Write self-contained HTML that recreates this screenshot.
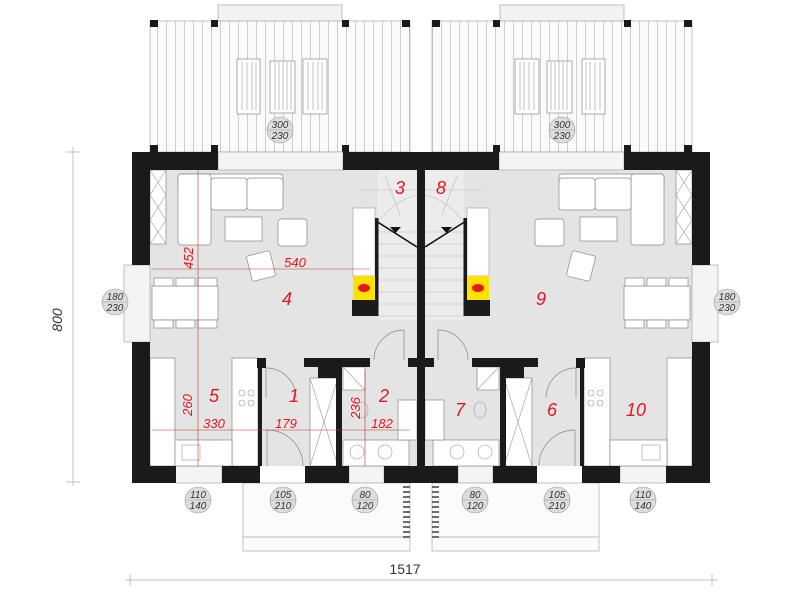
<!DOCTYPE html>
<html><head><meta charset="utf-8"><style>
html,body{margin:0;padding:0;background:#fff;width:800px;height:600px;overflow:hidden}
svg{display:block}
.r{fill:#e8141e;font-family:"Liberation Sans",sans-serif;font-style:italic}
.g{fill:#333;font-family:"Liberation Sans",sans-serif;font-style:italic;font-size:10px}
</style></head><body>
<svg width="800" height="600" viewBox="0 0 800 600" xmlns="http://www.w3.org/2000/svg">
<defs>
<pattern id="slat" width="9" height="10" patternUnits="userSpaceOnUse">
<rect width="9" height="10" fill="#fafafa"/><line x1="4.5" y1="0" x2="4.5" y2="10" stroke="#bbb" stroke-width="0.7"/></pattern>
<g id="half">
 <!-- terrace -->
 <rect x="218" y="5" width="124" height="16" fill="#f2f2f2" stroke="#aaa" stroke-width="0.7"/>
 <rect x="150" y="21" width="260" height="131" fill="url(#slat)" stroke="#aaa" stroke-width="0.7"/>
 <rect x="237" y="59" width="23" height="55" fill="#fff" stroke="#888" stroke-width="0.7"/>
 <rect x="270" y="61" width="25" height="52" fill="#fff" stroke="#888" stroke-width="0.7"/>
 <rect x="303" y="59" width="24" height="55" fill="#fff" stroke="#888" stroke-width="0.7"/>
 <g stroke="#999" stroke-width="0.6">
 <line x1="242" y1="62" x2="242" y2="110"/><line x1="247" y1="62" x2="247" y2="110"/><line x1="252" y1="62" x2="252" y2="110"/><line x1="256" y1="62" x2="256" y2="110"/>
 <line x1="275" y1="62" x2="275" y2="110"/><line x1="279" y1="62" x2="279" y2="110"/><line x1="283" y1="62" x2="283" y2="110"/><line x1="287" y1="62" x2="287" y2="110"/><line x1="291" y1="62" x2="291" y2="110"/>
 <line x1="308" y1="62" x2="308" y2="110"/><line x1="313" y1="62" x2="313" y2="110"/><line x1="318" y1="62" x2="318" y2="110"/><line x1="322" y1="62" x2="322" y2="110"/>
 </g>
 <g fill="#1a1a1a">
 <rect x="150" y="20" width="8" height="7"/><rect x="211" y="20" width="7" height="7"/><rect x="342" y="20" width="7" height="7"/><rect x="402" y="20" width="8" height="7"/>
 <rect x="150" y="145" width="8" height="8"/><rect x="211" y="145" width="7" height="8"/><rect x="342" y="145" width="7" height="8"/>
 </g>
 <!-- floor -->
 <rect x="150" y="170" width="271" height="296" fill="#e4e4e4"/>
 <!-- window strips -->
 <rect x="218" y="152" width="125" height="18" fill="#f4f4f4" stroke="#999" stroke-width="0.6"/>
 <rect x="124" y="265" width="26" height="77" fill="#f4f4f4" stroke="#999" stroke-width="0.6"/>
 <rect x="175" y="466" width="47" height="17" fill="#f4f4f4" stroke="#999" stroke-width="0.6"/>
 <rect x="349" y="466" width="35" height="17" fill="#f4f4f4" stroke="#999" stroke-width="0.6"/>
 <!-- porch -->
 <rect x="243" y="483" width="167" height="68" fill="#fbfbfb" stroke="#aaa" stroke-width="0.7"/>
 <line x1="243" y1="537" x2="410" y2="537" stroke="#aaa" stroke-width="0.7"/>
 <g stroke="#222" stroke-width="1.3">
 <line x1="403" y1="487" x2="410" y2="487"/><line x1="403" y1="492" x2="410" y2="492"/><line x1="403" y1="497" x2="410" y2="497"/><line x1="403" y1="502" x2="410" y2="502"/><line x1="403" y1="507" x2="410" y2="507"/><line x1="403" y1="512" x2="410" y2="512"/><line x1="403" y1="517" x2="410" y2="517"/><line x1="403" y1="522" x2="410" y2="522"/><line x1="403" y1="527" x2="410" y2="527"/><line x1="403" y1="532" x2="410" y2="532"/><line x1="403" y1="537" x2="410" y2="537"/>
 </g>
 <!-- furniture -->
 <g fill="#fff" stroke="#888" stroke-width="0.7">
 <rect x="150" y="170" width="16" height="74"/>
 <rect x="178" y="174" width="105" height="14" rx="3"/>
 <rect x="178" y="174" width="33" height="71" rx="3"/>
 <rect x="211" y="178" width="36" height="32" rx="3"/>
 <rect x="247" y="178" width="36" height="32" rx="3"/>
 <rect x="225" y="217" width="37" height="24"/>
 <rect x="278" y="219" width="29" height="27" rx="3"/>
 <rect x="249" y="253" width="24" height="26" rx="2" transform="rotate(-14 261 266)"/>
 <rect x="152" y="286" width="66" height="34"/>
 <rect x="154" y="278" width="19" height="8"/><rect x="176" y="278" width="19" height="8"/><rect x="198" y="278" width="19" height="8"/>
 <rect x="154" y="320" width="19" height="8"/><rect x="176" y="320" width="19" height="8"/><rect x="198" y="320" width="19" height="8"/>
 <rect x="150" y="358" width="25" height="108"/>
 <rect x="232" y="358" width="26" height="108"/>
 <rect x="175" y="440" width="57" height="26"/>
 <rect x="343" y="367" width="22" height="23"/>
 <rect x="343" y="440" width="66" height="26"/>
 <rect x="398" y="400" width="19" height="40"/>
 <rect x="310" y="378" width="28" height="88"/>
 </g>
 <g stroke="#999" stroke-width="0.6" fill="none">
 <path d="M150 170L166 195M166 170L150 195M150 195L166 220M166 195L150 220M150 220L166 244M166 220L150 244"/>
 <path d="M310 378L338 466M338 378L310 466"/>
 <path d="M343 367L365 390"/>
 <circle cx="242" cy="393" r="3"/><circle cx="251" cy="393" r="3"/><circle cx="242" cy="403" r="3"/><circle cx="251" cy="403" r="3"/>
 <circle cx="357" cy="452" r="7"/><circle cx="385" cy="452" r="7"/>
 <ellipse cx="362" cy="410" rx="6" ry="8"/>
 <rect x="182" y="445" width="18" height="15"/>
 </g>
 <!-- stairs -->
 <rect x="378" y="170" width="39" height="150" fill="#ececec"/>
 <g stroke="#bbb" stroke-width="0.6">
 <line x1="378" y1="232" x2="417" y2="232"/><line x1="378" y1="244" x2="417" y2="244"/><line x1="378" y1="256" x2="417" y2="256"/><line x1="378" y1="268" x2="417" y2="268"/><line x1="378" y1="280" x2="417" y2="280"/><line x1="378" y1="292" x2="417" y2="292"/><line x1="378" y1="304" x2="417" y2="304"/><line x1="378" y1="316" x2="417" y2="316"/>
 <path d="M378 222Q395 200 417 195M385 176L400 215M360 190L417 190" fill="none"/>
 </g>
 <line x1="376" y1="221" x2="417" y2="247" stroke="#111" stroke-width="1.6"/>
 <path d="M390 227h11l-5.5 6z" fill="#111"/>
 <rect x="353" y="208" width="22" height="68" fill="#fff" stroke="#999" stroke-width="0.6"/>
 <rect x="353" y="276" width="22" height="24" fill="#ffe100"/>
 <ellipse cx="364" cy="288" rx="6" ry="4" fill="#e8141e"/>
 <rect x="352" y="300" width="26" height="16" fill="#1a1a1a"/>
 <rect x="375" y="218" width="3.5" height="98" fill="#1a1a1a"/>
 <!-- doors -->
 <g fill="none" stroke="#888" stroke-width="0.7">
 <path d="M266 368v30M266 368a30 30 0 0 1 30 30"/>
 <path d="M267 466v-36M267 430a36 36 0 0 1 36 36"/>
 <path d="M374 360a30 30 0 0 1 30 -30v30"/>
 </g>
 <!-- walls -->
 <g fill="#1a1a1a">
 <rect x="132" y="152" width="86" height="18"/>
 <rect x="343" y="152" width="78" height="18"/>
 <rect x="132" y="152" width="18" height="113"/>
 <rect x="132" y="342" width="18" height="141"/>
 <rect x="132" y="466" width="44" height="17"/>
 <rect x="222" y="466" width="38" height="17"/>
 <rect x="305" y="466" width="44" height="17"/>
 <rect x="384" y="466" width="37" height="17"/>
 <rect x="257" y="358" width="9" height="10"/>
 <rect x="258" y="358" width="4" height="108"/>
 <rect x="304" y="358" width="66" height="9"/>
 <rect x="318" y="358" width="22" height="20"/>
 <rect x="336" y="358" width="6" height="108"/>
 <rect x="408" y="358" width="13" height="9"/>
 </g>
</g>
</defs>
<use href="#half"/>
<use href="#half" transform="matrix(-1 0 0 1 842 0)"/>
<rect x="417" y="152" width="8" height="331" fill="#1a1a1a"/>
<!-- red dims -->
<g stroke="#c0392b" stroke-width="0.6">
<line x1="152" y1="269" x2="370" y2="269"/>
<line x1="198" y1="170" x2="198" y2="466"/>
<line x1="152" y1="430" x2="410" y2="430"/>
<line x1="365" y1="370" x2="365" y2="466"/>
</g>
<!-- dimension lines -->
<g stroke="#aaa" stroke-width="0.7">
<line x1="73" y1="147" x2="73" y2="486"/><line x1="66" y1="152" x2="80" y2="152"/><line x1="66" y1="482" x2="80" y2="482"/>
<line x1="125" y1="580" x2="718" y2="580"/><line x1="130" y1="574" x2="130" y2="586"/><line x1="712" y1="574" x2="712" y2="586"/>
</g>
<text x="62" y="320" font-size="14" fill="#333" font-family="Liberation Sans,sans-serif" font-style="italic" text-anchor="middle" transform="rotate(-90 62 320)">800</text>
<text x="405" y="574" font-size="14" fill="#333" font-family="Liberation Sans,sans-serif" text-anchor="middle">1517</text>
<!-- window tags -->
<g fill="#ddd" stroke="#999" stroke-width="0.6">
<circle cx="280" cy="130" r="13"/><circle cx="562" cy="130" r="13"/>
<circle cx="115" cy="302" r="13"/><circle cx="727" cy="302" r="13"/>
<circle cx="198" cy="500" r="13"/><circle cx="283" cy="500" r="13"/><circle cx="365" cy="500" r="13"/>
<circle cx="475" cy="500" r="13"/><circle cx="557" cy="500" r="13"/><circle cx="643" cy="500" r="13"/>
</g>
<g stroke="#999" stroke-width="0.5">
<line x1="267" y1="130" x2="293" y2="130"/><line x1="549" y1="130" x2="575" y2="130"/>
<line x1="102" y1="302" x2="128" y2="302"/><line x1="714" y1="302" x2="740" y2="302"/>
<line x1="185" y1="500" x2="211" y2="500"/><line x1="270" y1="500" x2="296" y2="500"/><line x1="352" y1="500" x2="378" y2="500"/>
<line x1="462" y1="500" x2="488" y2="500"/><line x1="544" y1="500" x2="570" y2="500"/><line x1="630" y1="500" x2="656" y2="500"/>
</g>
<g class="g" text-anchor="middle">
<text x="280" y="128">300</text><text x="280" y="139">230</text>
<text x="562" y="128">300</text><text x="562" y="139">230</text>
<text x="115" y="300">180</text><text x="115" y="311">230</text>
<text x="727" y="300">180</text><text x="727" y="311">230</text>
<text x="198" y="498">110</text><text x="198" y="509">140</text>
<text x="283" y="498">105</text><text x="283" y="509">210</text>
<text x="365" y="498">80</text><text x="365" y="509">120</text>
<text x="475" y="498">80</text><text x="475" y="509">120</text>
<text x="557" y="498">105</text><text x="557" y="509">210</text>
<text x="643" y="498">110</text><text x="643" y="509">140</text>
</g>
<g class="r" font-size="18" text-anchor="middle">
<text x="400" y="194">3</text><text x="441" y="194">8</text>
<text x="287" y="305">4</text><text x="541" y="305">9</text>
<text x="214" y="402">5</text><text x="294" y="402">1</text><text x="384" y="402">2</text>
<text x="460" y="416">7</text><text x="552" y="416">6</text><text x="636" y="416">10</text>
</g>
<g class="r" font-size="13" text-anchor="middle">
<text x="295" y="267">540</text>
<text x="214" y="428">330</text><text x="286" y="428">179</text><text x="382" y="428">182</text>
<text x="193" y="258" transform="rotate(-90 193 258)">452</text>
<text x="192" y="405" transform="rotate(-90 192 405)">260</text>
<text x="360" y="408" transform="rotate(-90 360 408)">236</text>
</g>
</svg>
</body></html>
